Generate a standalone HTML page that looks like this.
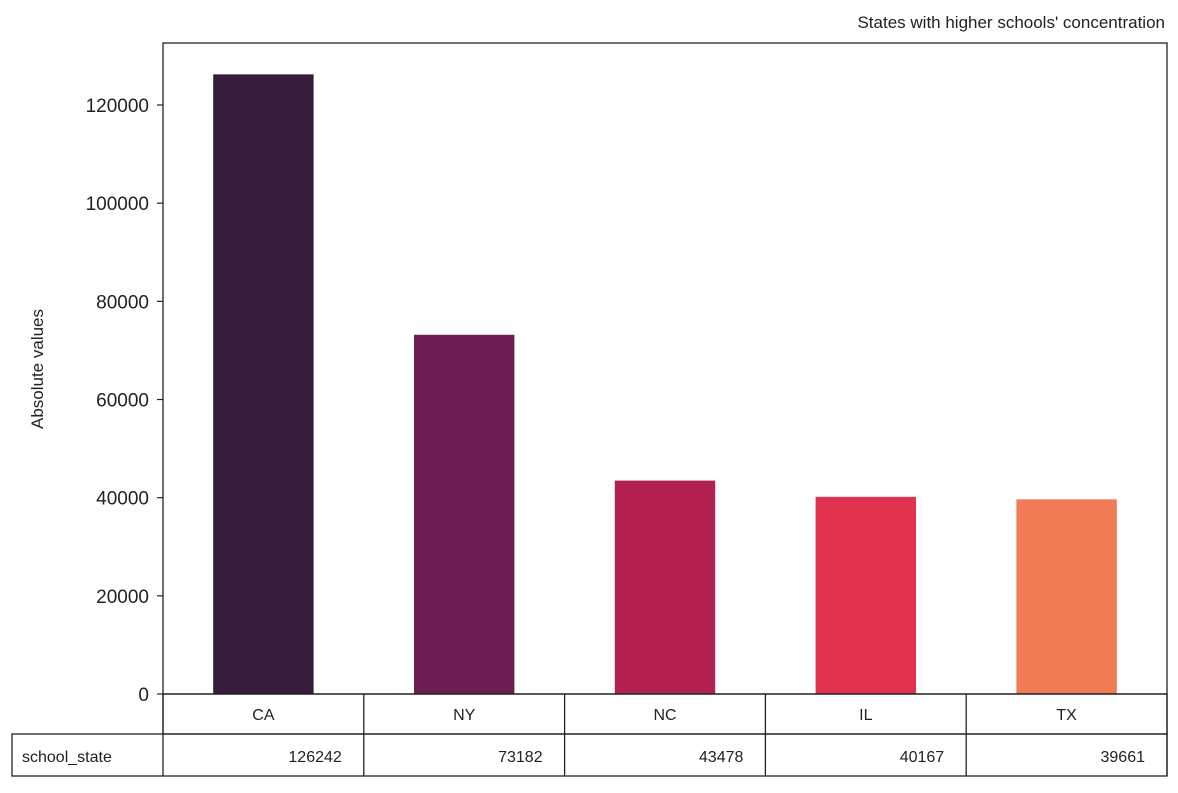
<!DOCTYPE html>
<html><head><meta charset="utf-8"><style>
body{margin:0;background:#fff;font-family:"Liberation Sans","DejaVu Sans",sans-serif;}
</style></head><body>
<svg id="chart" width="1178" height="788" xmlns="http://www.w3.org/2000/svg">
<text x="1165" y="28" text-anchor="end" font-size="17" fill="#222">States with higher schools' concentration</text>
<text transform="translate(43,369) rotate(-90)" text-anchor="middle" font-size="17" fill="#222">Absolute values</text>
<g id="ticks"></g>
<g id="bars"></g>
<rect x="163" y="43" width="1004" height="651" fill="none" stroke="#222" stroke-width="1.3"/>
<g id="table"></g>
</svg>
<script>
const categories = ["CA","NY","NC","IL","TX"];
const values = [126242,73182,43478,40167,39661];
const yTicks = [0,20000,40000,60000,80000,100000,120000];
const colors = ["#361c3b","#6d1d52","#b1204e","#e0314f","#f07b55"];
const rowLabel = "school_state";
const NS="http://www.w3.org/2000/svg";
const L=163,R=1167,B=694,T=43;
const yScale=v=>B-v*(694-105)/120000;
const band=(R-L)/categories.length;
const xCenter=i=>L+band*(i+0.5);
function mk(tag,attrs,parent,text){const e=document.createElementNS(NS,tag);for(const k in attrs)e.setAttribute(k,attrs[k]);if(text!==undefined)e.textContent=text;parent.appendChild(e);return e;}
const tg=document.getElementById('ticks');
yTicks.forEach(t=>{
  const y=yScale(t);
  const ln=mk('line',{x1:L-6,x2:L,y1:y,y2:y,stroke:'#222','stroke-width':1.2},tg);
  
  
  const tx=mk('text',{x:L-14,y:y+7,'text-anchor':'end','font-size':19,fill:'#222'},tg,String(t));
  
  
});
const bg=document.getElementById('bars');
values.forEach((v,i)=>{
  const w=band*0.5;
  const r=mk('rect',{x:xCenter(i)-w/2,y:yScale(v),width:w,height:B-yScale(v),fill:colors[i%colors.length]},bg);
  
  
});
const tb=document.getElementById('table');
const s={fill:'none',stroke:'#222','stroke-width':1.3};
const hdr=mk('rect',Object.assign({x:L,y:694,width:R-L,height:40},s),tb);


const row=mk('rect',Object.assign({x:12,y:734,width:R-12,height:42},s),tb);


for(let i=0;i<=categories.length;i++){
  const x=L+band*i;
  mk('line',{x1:x,x2:x,y1:694,y2:776,stroke:'#222','stroke-width':1.3},tb);
}
const rl=mk('text',{x:22,y:762,'font-size':16,fill:'#222'},tb,rowLabel);


categories.forEach((c,i)=>{
  const h=mk('text',{x:xCenter(i),y:720,'text-anchor':'middle','font-size':16,fill:'#222'},tb,c);
  
  
  const d=mk('text',{x:L+band*(i+1)-22,y:762,'text-anchor':'end','font-size':16,fill:'#222'},tb,String(values[i]));
  
  
});
</script>
</body></html>
